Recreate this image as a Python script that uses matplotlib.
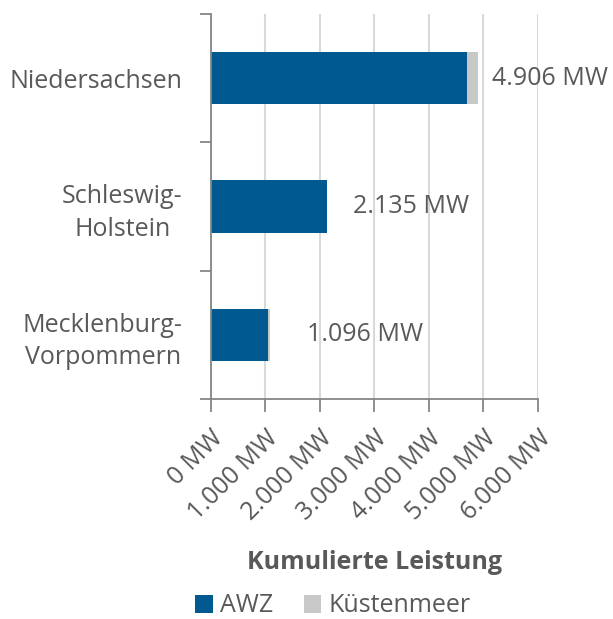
import numpy as np
import matplotlib
matplotlib.use("Agg")
import matplotlib.pyplot as plt
from matplotlib.ticker import FuncFormatter

# Data (MW)
states = ["Niedersachsen", "Schleswig-\nHolstein", "Mecklenburg-\nVorpommern"]
awz = [4690, 2135, 1045]
kuestenmeer = [216, 0, 51]
totals = [4906, 2135, 1096]
x_ticks = [0, 1000, 2000, 3000, 4000, 5000, 6000]

plt.rcParams["font.family"] = ["Open Sans", "DejaVu Sans"]
TXT = "#595959"
BLUE = "#00598F"
GREY = "#C8C8C8"
FS = 18

fig = plt.figure(figsize=(6.13, 6.19), dpi=100)
ax = fig.add_axes([0.3434, 0.3554, 0.5343, 0.622])

y = np.arange(len(states))
ax.barh(y, awz, height=0.41, color=BLUE, label="AWZ", zorder=3)
ax.barh(y, kuestenmeer, left=awz, height=0.41, color=GREY, label="Küstenmeer", zorder=3)

# value labels, offsets in points
offsets = [10, 18.5, 26.5]
for yi, tot, off in zip(y, totals, offsets):
    ax.annotate(f"{tot/1000:.3f} MW", xy=(tot, yi), xytext=(off, 0),
                textcoords="offset points", ha="left", va="center",
                fontsize=FS, color=TXT, zorder=1)

ax.set_ylim(2.5, -0.5)
ax.set_xlim(0, 6000)
ax.set_yticks(y)
ax.set_yticklabels(states, ha="right", multialignment="center", linespacing=1.4)
ax.set_yticks([-0.5, 0.5, 1.5, 2.5], minor=True)
ax.tick_params(axis="y", which="major", length=0, pad=20, labelsize=FS, labelcolor=TXT)
ax.tick_params(axis="y", which="minor", length=8, width=1.3, color="#868686")

ax.set_xticks(x_ticks)
ax.xaxis.set_major_formatter(FuncFormatter(lambda v, p: f"{int(v):,} MW".replace(",", ".")))
ax.tick_params(axis="x", length=9, width=1.3, color="#868686", labelsize=FS,
               labelcolor=TXT, pad=10)
for lab in ax.get_xticklabels():
    lab.set_rotation(45)
    lab.set_ha("right")
    lab.set_rotation_mode("anchor")

ax.grid(axis="x", color="#D9D9D9", linewidth=1.5, zorder=0)
ax.set_axisbelow(True)
for s in ["top", "right"]:
    ax.spines[s].set_visible(False)
for s in ["left", "bottom"]:
    ax.spines[s].set_color("#868686")
    ax.spines[s].set_linewidth(1.3)
    ax.spines[s].set_zorder(4)

ax.set_xlabel("Kumulierte Leistung", fontsize=FS, fontweight="bold", color=TXT, labelpad=18)

fig.legend(loc="center", bbox_to_anchor=(333 / 613, 1 - 606 / 619), ncol=2, frameon=False,
           fontsize=FS, labelcolor=TXT, handlelength=0.7, handleheight=0.7,
           handletextpad=0.3, columnspacing=1.2)

fig.savefig("out.png", dpi=100)
plt.close(fig)
